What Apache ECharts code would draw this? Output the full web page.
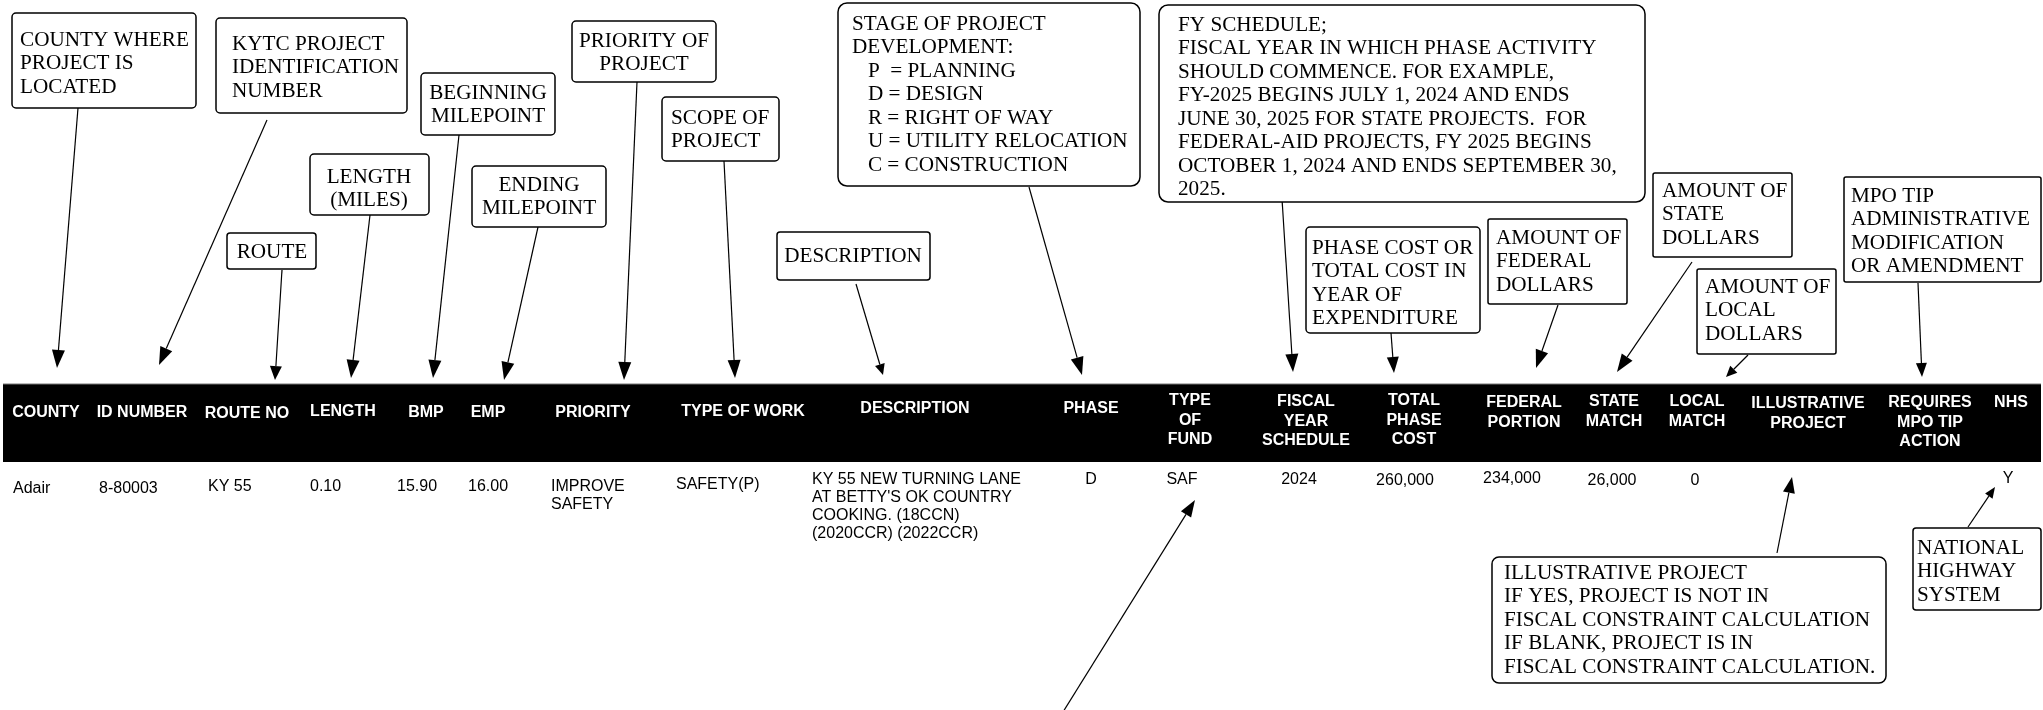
<!DOCTYPE html>
<html><head><meta charset="utf-8">
<script src="https://cdn.jsdelivr.net/npm/echarts@6/dist/echarts.min.js"></script>
<style>html,body{margin:0;padding:0;background:#fff}#c{width:2043px;height:710px}</style>
</head><body><div id="c"></div>
<script>
// ---- content ----
const headerLabels = ['COUNTY','ID NUMBER','ROUTE NO','LENGTH','BMP','EMP','PRIORITY','TYPE OF WORK','DESCRIPTION','PHASE','TYPE\nOF\nFUND','FISCAL\nYEAR\nSCHEDULE','TOTAL\nPHASE\nCOST','FEDERAL\nPORTION','STATE\nMATCH','LOCAL\nMATCH','ILLUSTRATIVE\nPROJECT','REQUIRES\nMPO TIP\nACTION','NHS'];
const rowValues = ['Adair','8-80003','KY 55','0.10','15.90','16.00','IMPROVE\nSAFETY','SAFETY(P)',"KY 55 NEW TURNING LANE\nAT BETTY'S OK COUNTRY\nCOOKING. (18CCN)\n(2020CCR) (2022CCR)",'D','SAF','2024','260,000','234,000','26,000','0','Y'];
const noteTexts = [
 'COUNTY WHERE\nPROJECT IS\nLOCATED',
 'KYTC PROJECT\nIDENTIFICATION\nNUMBER',
 'ROUTE',
 'LENGTH\n(MILES)',
 'BEGINNING\nMILEPOINT',
 'ENDING\nMILEPOINT',
 'PRIORITY OF\nPROJECT',
 'SCOPE OF\nPROJECT',
 'DESCRIPTION',
 'STAGE OF PROJECT\nDEVELOPMENT:\n   P  = PLANNING\n   D = DESIGN\n   R = RIGHT OF WAY\n   U = UTILITY RELOCATION\n   C = CONSTRUCTION',
 'FY SCHEDULE;\nFISCAL YEAR IN WHICH PHASE ACTIVITY\nSHOULD COMMENCE. FOR EXAMPLE,\nFY-2025 BEGINS JULY 1, 2024 AND ENDS\nJUNE 30, 2025 FOR STATE PROJECTS.  FOR\nFEDERAL-AID PROJECTS, FY 2025 BEGINS\nOCTOBER 1, 2024 AND ENDS SEPTEMBER 30,\n2025.',
 'PHASE COST OR\nTOTAL COST IN\nYEAR OF\nEXPENDITURE',
 'AMOUNT OF\nFEDERAL\nDOLLARS',
 'AMOUNT OF\nSTATE\nDOLLARS',
 'AMOUNT OF\nLOCAL\nDOLLARS',
 'MPO TIP\nADMINISTRATIVE\nMODIFICATION\nOR AMENDMENT',
 'ILLUSTRATIVE PROJECT\nIF YES, PROJECT IS NOT IN\nFISCAL CONSTRAINT CALCULATION\nIF BLANK, PROJECT IS IN\nFISCAL CONSTRAINT CALCULATION.',
 'NATIONAL\nHIGHWAY\nSYSTEM'
];

// ---- layout (diagram coordinate space 0..2043 x 0..710) ----
const headerLayout = [[46,413],[142,413],[247,414],[343,412],[426,413],[488,413],[593,413],[743,412],[915,409],[1091,409],[1190,401],[1306,402],[1414,401],[1524,403],[1614,402],[1697,402],[1808,404],[1930,403],[2011,403]];
const rowLayout = [[13,489,'left'],[99,489,'left'],[208,487,'left'],[310,487,'left'],[397,487,'left'],[468,487,'left'],[551,487,'left'],[676,485,'left'],[812,480,'left'],[1091,480,'center'],[1182,480,'center'],[1299,480,'center'],[1405,481,'center'],[1512,479,'center'],[1612,481,'center'],[1695,481,'center'],[2008,479,'center']];
const noteBoxes = [[12,13,196,108,4],[216,18,407,113,4],[227,233,316,269,3],[310,154,429,215,4],[421,73,555,135,4],[472,166,606,227,4],[572,21,716,82,4],[662,97,779,161,4],[777,232,930,280,3],[838,3,1140,186,9],[1159,5,1645,202,9],[1306,227,1480,333,4],[1488,219,1627,304,2],[1653,173,1792,257,2],[1697,269,1836,354,2],[1844,177,2041,282,2],[1492,557,1886,683,7],[1913,528,2041,610,3]];
const noteTextPos = [[20,39,'left'],[232,43,'left'],[272,251,'center'],[369,176,'center'],[488,92,'center'],[539,184,'center'],[644,40,'center'],[671,117,'left'],[853,255,'center'],[852,23,'left'],[1178,24,'left'],[1312,247,'left'],[1496,237,'left'],[1662,190,'left'],[1705,286,'left'],[1851,195,'left'],[1504,572,'left'],[1917,547,'left']];
const arrows = [[78,108,57,368,18,6.5],[267,120,159,365,18,6.5],[282,270,275,380,14,6],[370,215,351,378,18,6.5],[459,135,433,378,18,6.5],[538,227,504,380,18,6.5],[637,82,624,380,18,6.5],[724,161,735,378,18,6.5],[856,284,883,375,11,5],[1029,187,1082,375,18,6.5],[1282,199,1293,372,18,6.5],[1391,333,1394,373,16,6],[1558,305,1536,368,18,6.5],[1692,262,1617,372,18,6.5],[1748,355,1726,377,11,5],[1918,283,1922,377,14,5.5],[1777,553,1792,477,16,6],[1968,527,1995,487,11,4.5],[1063,712,1195,500,17,6]];
const band = [3,384,2041,462];

const SERIF = '"Liberation Serif","Times New Roman",serif';
const SANS = '"Liberation Sans",Arial,sans-serif';
const NOTE_LH = 23.5, HEAD_LH = 19.5, ROW_LH = 17.8;

const chart = echarts.init(document.getElementById('c'), null, {renderer:'canvas'});
const idx = n => Array.from({length:n}, (_, i) => [i]);

function bandItem(params, api){
  const p0 = api.coord([band[0], band[1]]), p1 = api.coord([band[2], band[3]]);
  return {type:'group', children:[
    {type:'rect', shape:{x:p0[0], y:p0[1], width:p1[0]-p0[0], height:p1[1]-p0[1]}, style:{fill:'#000'}},
    {type:'line', shape:{x1:p0[0], y1:p0[1], x2:p1[0], y2:p0[1]}, style:{stroke:'#777', lineWidth:1}}
  ]};
}
function headerItem(params, api){
  const i = api.value(0), h = headerLayout[i], p = api.coord([h[0], h[1]]);
  return {type:'text', style:{text:headerLabels[i], x:p[0], y:p[1]-HEAD_LH/2, align:'center', verticalAlign:'top', lineHeight:HEAD_LH, font:'bold 16px '+SANS, fill:'#fff'}};
}
function rowItem(params, api){
  const i = api.value(0), r = rowLayout[i], p = api.coord([r[0], r[1]]);
  return {type:'text', style:{text:rowValues[i], x:p[0], y:p[1]-ROW_LH/2, align:r[2], verticalAlign:'top', lineHeight:ROW_LH, font:'16px '+SANS, fill:'#000'}};
}
function noteItem(params, api){
  const i = api.value(0), b = noteBoxes[i], t = noteTextPos[i];
  const p0 = api.coord([b[0], b[1]]), p1 = api.coord([b[2], b[3]]), tp = api.coord([t[0], t[1]]);
  return {type:'group', children:[
    {type:'rect', shape:{x:p0[0], y:p0[1], width:p1[0]-p0[0], height:p1[1]-p0[1], r:b[4]}, style:{fill:'#fff', stroke:'#000', lineWidth:1.5}},
    {type:'text', style:{text:noteTexts[i], x:tp[0], y:tp[1]-NOTE_LH/2+1, align:t[2], verticalAlign:'top', lineHeight:NOTE_LH, font:'21.2px '+SERIF, fill:'#000'}}
  ]};
}
function arrowItem(params, api){
  const a = arrows[api.value(0)];
  const s = api.coord([a[0], a[1]]), e = api.coord([a[2], a[3]]);
  const dx = e[0]-s[0], dy = e[1]-s[1], L = Math.hypot(dx, dy), ux = dx/L, uy = dy/L;
  const bx = e[0]-ux*a[4], by = e[1]-uy*a[4], px = -uy, py = ux;
  return {type:'group', children:[
    {type:'line', shape:{x1:s[0], y1:s[1], x2:bx, y2:by}, style:{stroke:'#000', lineWidth:1.2}},
    {type:'polygon', shape:{points:[[e[0], e[1]], [bx+px*a[5], by+py*a[5]], [bx-px*a[5], by-py*a[5]]]}, style:{fill:'#000'}}
  ]};
}

chart.setOption({
  animation:false,
  backgroundColor:'#fff',
  grid:{left:0, right:0, top:0, bottom:0},
  xAxis:{type:'value', min:0, max:2043, show:false},
  yAxis:{type:'value', min:0, max:710, inverse:true, show:false},
  series:[
    {type:'custom', renderItem:bandItem, data:[[0]], silent:true},
    {type:'custom', renderItem:headerItem, data:idx(headerLabels.length), silent:true},
    {type:'custom', renderItem:rowItem, data:idx(rowValues.length), silent:true},
    {type:'custom', renderItem:arrowItem, data:idx(arrows.length), silent:true},
    {type:'custom', renderItem:noteItem, data:idx(noteTexts.length), silent:true}
  ]
});
</script></body></html>
